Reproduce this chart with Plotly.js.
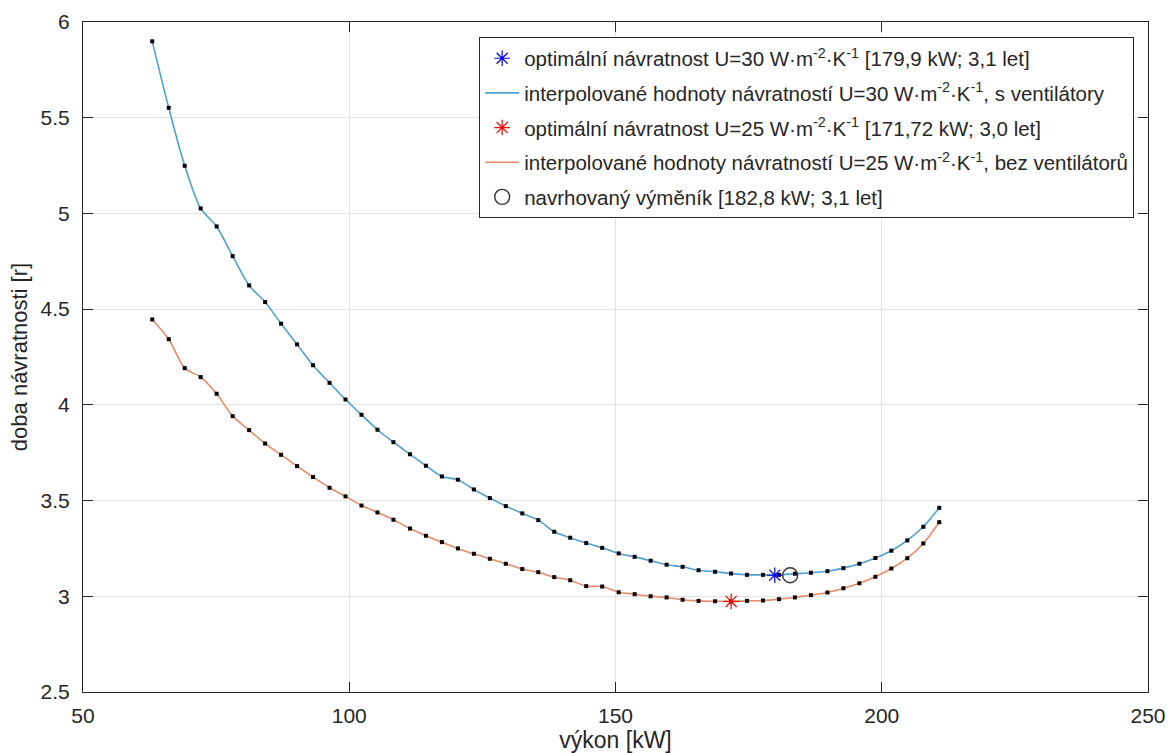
<!DOCTYPE html>
<html>
<head>
<meta charset="utf-8">
<script src="https://cdn.plot.ly/plotly-3.0.1.min.js"></script>
<style>html,body{margin:0;padding:0;background:#fff;}#chart{width:1168px;height:753px;}</style>
</head>
<body>
<div id="chart"></div>
<script>
// power [kW]
const vykon = [63.0, 66.1, 69.1, 72.1, 75.1, 78.1, 81.2, 84.2, 87.2, 90.2,
  93.2, 96.3, 99.3, 102.3, 105.3, 108.3, 111.4, 114.4, 117.4, 120.4,
  123.4, 126.4, 129.4, 132.5, 135.5, 138.5, 141.5, 144.5, 147.5, 150.6,
  153.6, 156.6, 159.6, 162.6, 165.6, 168.7, 171.7, 174.7, 177.7, 180.7,
  183.7, 186.7, 189.8, 192.8, 195.8, 198.8, 201.8, 204.8, 207.8, 210.8];
// payback U=30, with fans
const navratnost30 = [5.899, 5.552, 5.249, 5.026, 4.932, 4.777, 4.624, 4.537, 4.424, 4.316,
  4.207, 4.115, 4.028, 3.948, 3.870, 3.805, 3.742, 3.682, 3.626, 3.609,
  3.558, 3.513, 3.471, 3.433, 3.398, 3.337, 3.306, 3.278, 3.253, 3.224,
  3.206, 3.186, 3.165, 3.154, 3.136, 3.128, 3.119, 3.112, 3.112, 3.112,
  3.118, 3.123, 3.131, 3.147, 3.170, 3.200, 3.238, 3.292, 3.363, 3.462];
// payback U=25, without fans
const navratnost25 = [4.446, 4.343, 4.192, 4.145, 4.058, 3.941, 3.868, 3.798, 3.739, 3.680,
  3.623, 3.567, 3.522, 3.474, 3.438, 3.400, 3.354, 3.316, 3.283, 3.250,
  3.222, 3.196, 3.170, 3.142, 3.126, 3.100, 3.084, 3.053, 3.051, 3.021,
  3.011, 3.000, 2.994, 2.982, 2.976, 2.974, 2.973, 2.976, 2.978, 2.985,
  2.994, 3.006, 3.020, 3.042, 3.068, 3.102, 3.145, 3.199, 3.276, 3.387];
// special points
const opt30 = {x: [179.9], y: [3.11]};
const opt25 = {x: [171.72], y: [2.973]};
const navrh = {x: [182.8], y: [3.11]};
const xTicks = [50, 100, 150, 200, 250];
const yTicks = [2.5, 3, 3.5, 4, 4.5, 5, 5.5, 6];
const yTickText = ['2.5', '3', '3.5', '4', '4.5', '5', '5.5', '6'];

const unit = 'W·m<sup>-2</sup>·K<sup>-1</sup>';
const names = [
  'optimální návratnost U=30 ' + unit + ' [179,9 kW; 3,1 let]',
  'interpolované hodnoty návratností U=30 ' + unit + ', s ventilátory',
  'optimální návratnost U=25 ' + unit + ' [171,72 kW; 3,0 let]',
  'interpolované hodnoty návratností U=25 ' + unit + ', bez ventilátorů',
  'navrhovaný výměník [182,8 kW; 3,1 let]'
];

const traces = [
  {x: vykon, y: navratnost30, mode: 'lines', line: {color: '#4da0d8', width: 1.6, shape: 'spline', smoothing: 0.8},
   name: names[1], legendrank: 2, legendgroup: 'b'},
  {x: vykon, y: navratnost25, mode: 'lines', line: {color: '#eb8a66', width: 1.6, shape: 'spline', smoothing: 0.8},
   name: names[3], legendrank: 4, legendgroup: 'd'},
  {x: vykon, y: navratnost30, mode: 'markers', marker: {symbol: 'square', color: '#000', size: 4}, showlegend: false, hoverinfo: 'skip'},
  {x: vykon, y: navratnost25, mode: 'markers', marker: {symbol: 'square', color: '#000', size: 4}, showlegend: false, hoverinfo: 'skip'},
  {x: opt30.x, y: opt30.y, mode: 'markers', marker: {symbol: 'asterisk-open', size: 13, color: '#0000ff', line: {color: '#0000ff', width: 1.2}},
   name: names[0], legendrank: 1, legendgroup: 'a'},
  {x: opt25.x, y: opt25.y, mode: 'markers', marker: {symbol: 'asterisk-open', size: 13, color: '#ff0000', line: {color: '#ff0000', width: 1.2}},
   name: names[2], legendrank: 3, legendgroup: 'c'},
  {x: navrh.x, y: navrh.y, mode: 'markers', marker: {symbol: 'circle-open', size: 15, color: '#333', line: {color: '#333', width: 1.4}},
   name: names[4], legendrank: 5, legendgroup: 'e'}
];

const FONT = 'Liberation Sans, Arial, sans-serif';
const axisCommon = {
  showline: true, linecolor: '#262626', linewidth: 1, mirror: 'ticks',
  ticks: 'inside', ticklen: 10, tickcolor: '#262626', tickwidth: 1,
  showgrid: true, gridcolor: '#e3e3e3', gridwidth: 1, zeroline: false,
  tickfont: {family: FONT, size: 21, color: '#262626'}
};

const layout = {
  width: 1168, height: 753,
  margin: {l: 83, r: 20, t: 22, b: 61},
  paper_bgcolor: '#fff', plot_bgcolor: '#fff',
  font: {family: FONT, color: '#262626'},
  xaxis: Object.assign({}, axisCommon, {range: [50, 250], tickvals: xTicks, ticktext: xTicks.map(String),
    ticklabelstandoff: 5,
    title: {text: 'výkon [kW]', font: {size: 23, color: '#262626'}, standoff: 5}}),
  yaxis: Object.assign({}, axisCommon, {range: [2.5, 6], tickvals: yTicks, ticktext: yTickText,
    ticklabelstandoff: 8,
    title: {text: 'doba návratnosti [r]', font: {size: 22, color: '#262626'}, standoff: 6}}),
  showlegend: true,
  legend: {x: 0.372, y: 0.977, xanchor: 'left', yanchor: 'top', bgcolor: '#fff', bordercolor: '#262626', borderwidth: 1,
    font: {size: 20.5, color: '#262626', family: FONT}, tracegroupgap: 5, itemwidth: 34}
};

Plotly.newPlot('chart', traces, layout, {displayModeBar: false, staticPlot: true});
</script>
</body>
</html>
